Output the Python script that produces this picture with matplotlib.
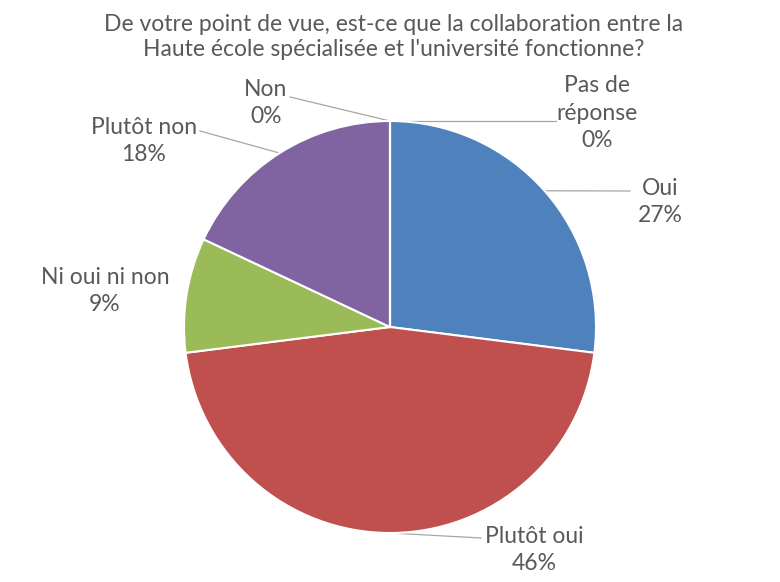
import numpy as np
import matplotlib
matplotlib.use("Agg")
import matplotlib.pyplot as plt

# Data (percent of respondents)
categories = ["Oui", "Plutôt oui", "Ni oui ni non", "Plutôt non", "Non", "Pas de réponse"]
values = [27, 46, 9, 18, 0, 0]
label_texts = ["Oui", "Plutôt oui", "Ni oui ni non", "Plutôt non", "Non", "Pas de\nréponse"]
colors = ["#4F81BD", "#C0504D", "#9BBB59", "#8064A2", "#F79646", "#4BACC6"]

title = ("De votre point de vue, est-ce que la collaboration entre la\n"
         "Haute école spécialisée et l'université fonctionne?")

W, H = 780, 582
plt.rcParams['font.family'] = ['Lato', 'DejaVu Sans']
text_color = "#595959"

fig = plt.figure(figsize=(W / 100, H / 100), dpi=100)
ax = fig.add_axes([0, 0, 1, 1])

cx, cy, r = 390, H - 327, 206
wedges, _ = ax.pie(values, colors=colors, startangle=90, counterclock=False,
                   center=(cx, cy), radius=r, frame=True,
                   wedgeprops=dict(edgecolor='white', linewidth=1.5))
ax.set_xlim(0, W)
ax.set_ylim(0, H)
ax.set_aspect('equal')
ax.axis('off')

total = sum(values)
# label block centres (image px) and leader-line start points
label_pos = [(660, 202), (534, 550), (105, 291), (144, 141), (266, 103), (597, 113)]
leader_start = [(630, 191), (481, 538), None, (200, 131), (290, 97), (556, 121)]

for w, txt, v, pos, ls in zip(wedges, label_texts, values, label_pos, leader_start):
    pct = round(100 * v / total)
    ax.text(pos[0], H - pos[1], f"{txt}\n{pct}%", ha='center', va='center',
            fontsize=16.5, color=text_color, linespacing=1.38)
    if ls is not None:
        mid = np.deg2rad((w.theta1 + w.theta2) / 2)
        ex, ey = cx + r * np.cos(mid), cy + r * np.sin(mid)
        ax.plot([ls[0], ex], [H - ls[1], ey], color="#A6A6A6", linewidth=0.9,
                zorder=0.5)

fig.text(0.505, 1 - 37 / H, title, ha='center', va='center', fontsize=16.5,
         color=text_color, linespacing=1.25)

fig.savefig("out.png", dpi=100, facecolor='white')
